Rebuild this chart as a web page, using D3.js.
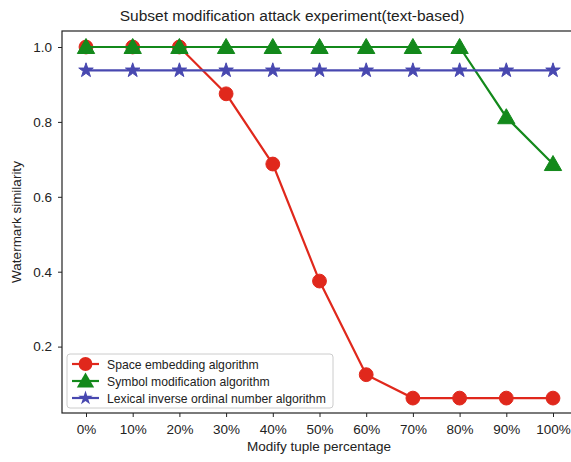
<!DOCTYPE html>
<html>
<head>
<meta charset="utf-8">
<script src="https://cdn.jsdelivr.net/npm/d3@7"></script>
<style>
  body { margin: 0; background: #fff; }
  text { font-family: "Liberation Sans", Arial, sans-serif; fill: #222; }
</style>
</head>
<body>
<div id="chart"></div>
<script>
// subset modification attack figure

// x categories (tick labels)
const percentages = ["0%", "10%", "20%", "30%", "40%", "50%", "60%", "70%", "80%", "90%", "100%"];

// watermark similarity per algorithm
const spaceValues = [1, 1, 1, 0.875, 0.6875, 0.375, 0.125, 0.0625, 0.0625, 0.0625, 0.0625];
const symbolValues = [1, 1, 1, 1, 1, 1, 1, 1, 1, 0.8125, 0.6875];
const lexicalValues = [0.9375, 0.9375, 0.9375, 0.9375, 0.9375, 0.9375, 0.9375, 0.9375, 0.9375, 0.9375, 0.9375];

const yTicks = [0.2, 0.4, 0.6, 0.8, 1.0];

const seriesNames = ["Space embedding algorithm", "Symbol modification algorithm", "Lexical inverse ordinal number algorithm"];

const w = 571, h = 462;
const box = { left: 62, right: 576, top: 31, bottom: 413 };

const series = [
  { name: seriesNames[0], values: spaceValues, color: "#e0281c", symbol: d3.symbolCircle, size: 150 },
  { name: seriesNames[1], values: symbolValues, color: "#13891b", symbol: d3.symbolTriangle, size: 130 },
  { name: seriesNames[2], values: lexicalValues, color: "#4848b0", symbol: d3.symbolStar, size: 65 }
];

const svg = d3.select("#chart")
  .append("svg")
  .attr("width", w)
  .attr("height", h);

// scales
const x = d3.scalePoint()
  .domain(percentages)
  .range([86, 553]);

const y = d3.scaleLinear()
  .domain([0, 1])
  .range([421.5, 47]);

// frame
svg.append("rect")
  .attr("x", box.left)
  .attr("y", box.top)
  .attr("width", box.right - box.left)
  .attr("height", box.bottom - box.top)
  .attr("fill", "none")
  .attr("stroke", "#222")
  .attr("stroke-width", 1.2);

// axes
svg.append("g")
  .attr("transform", `translate(0,${box.bottom})`)
  .call(d3.axisBottom(x).tickSize(4).tickPadding(7))
  .call(g => g.select(".domain").remove())
  .call(g => g.selectAll(".tick line").attr("stroke", "#222"))
  .call(g => g.selectAll(".tick text").attr("font-size", 13.5).attr("font-family", null));

svg.append("g")
  .attr("transform", `translate(${box.left},0)`)
  .call(d3.axisLeft(y).tickValues(yTicks).tickFormat(d3.format(".1f")).tickSize(4).tickPadding(6))
  .call(g => g.select(".domain").remove())
  .call(g => g.selectAll(".tick line").attr("stroke", "#222"))
  .call(g => g.selectAll(".tick text").attr("font-size", 13.5).attr("font-family", null));

// lines and markers
const line = d3.line()
  .x((d, i) => x(percentages[i]))
  .y(d => y(d));

series.forEach(s => {
  svg.append("path")
    .datum(s.values)
    .attr("d", line)
    .attr("fill", "none")
    .attr("stroke", s.color)
    .attr("stroke-width", 2.2);

  svg.append("g")
    .selectAll("path")
    .data(s.values)
    .join("path")
      .attr("transform", (d, i) => `translate(${x(percentages[i])},${y(d) + (s.symbol === d3.symbolTriangle ? 1.5 : 0)})`)
      .attr("d", d3.symbol().type(s.symbol).size(s.size))
      .attr("fill", s.color)
      .attr("stroke", s.color)
      .attr("stroke-width", 1);
});

// titles
svg.append("text")
  .attr("x", 292)
  .attr("y", 21)
  .attr("text-anchor", "middle")
  .attr("font-size", 15.5)
  .text("Subset modification attack experiment(text-based)");

svg.append("text")
  .attr("x", 319)
  .attr("y", 451)
  .attr("text-anchor", "middle")
  .attr("font-size", 13.5)
  .text("Modify tuple percentage");

svg.append("text")
  .attr("transform", `translate(21,${(box.top + box.bottom) / 2}) rotate(-90)`)
  .attr("text-anchor", "middle")
  .attr("font-size", 13.5)
  .text("Watermark similarity");

// legend
const legend = svg.append("g").attr("transform", "translate(67,354)");

legend.append("rect")
  .attr("width", 266)
  .attr("height", 54)
  .attr("rx", 3)
  .attr("fill", "#fff")
  .attr("fill-opacity", 0.8)
  .attr("stroke", "#ccc");

series.forEach((s, i) => {
  const gy = 10 + i * 17;
  legend.append("line")
    .attr("x1", 5).attr("x2", 32)
    .attr("y1", gy).attr("y2", gy)
    .attr("stroke", s.color)
    .attr("stroke-width", 2.2);
  legend.append("path")
    .attr("transform", `translate(18.5,${gy + (s.symbol === d3.symbolTriangle ? 1.5 : 0)})`)
    .attr("d", d3.symbol().type(s.symbol).size(s.size))
    .attr("fill", s.color);
  legend.append("text")
    .attr("x", 40)
    .attr("y", gy + 4.5)
    .attr("font-size", 12.2)
    .text(s.name);
});
</script>
</body>
</html>
